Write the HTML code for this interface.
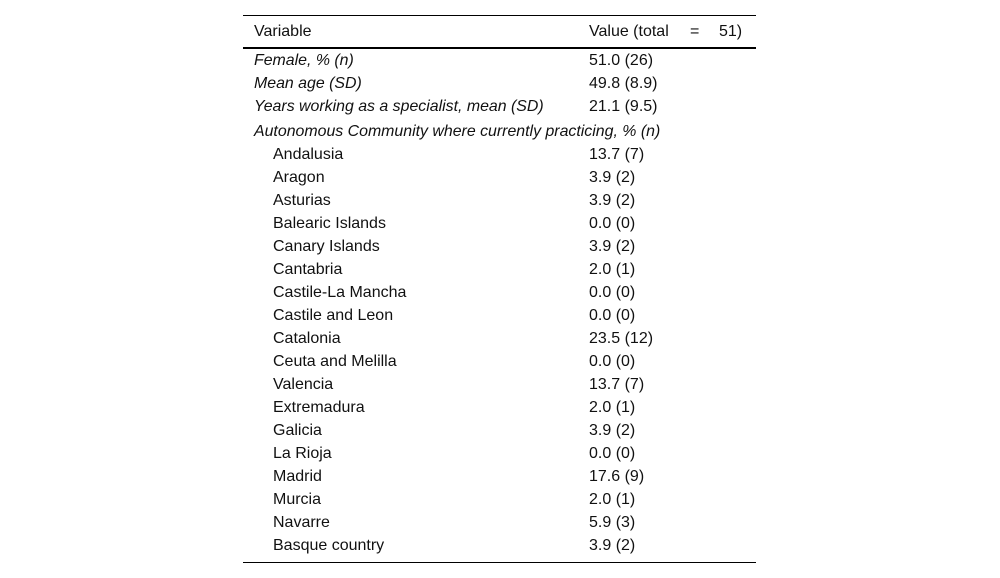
<!DOCTYPE html>
<html lang="en">
<head>
<meta charset="utf-8">
<title>Table of respondent characteristics</title>
<style>
html,body{margin:0;padding:0;background:#fff;}
body{width:1000px;height:578px;position:relative;overflow:hidden;font-family:"Liberation Sans",sans-serif;font-size:16px;color:#111;}
.t{position:absolute;line-height:22px;white-space:pre;}
.r{position:absolute;left:243px;width:513px;background:#000;}
.i{font-style:italic;font-size:15.9px;}
.a{left:254px;}
.b{left:273px;}
.v{left:589px;}
</style>
</head>
<body>
<div class="r" style="top:15px;height:1px"></div>
<div class="r" style="top:47px;height:2px"></div>
<div class="r" style="top:562px;height:1px"></div>

<div class="t a" style="top:21px">Variable</div>
<div class="t v" style="top:21px">Value (total</div>
<div class="t" style="top:21px;left:690px">=</div>
<div class="t" style="top:21px;left:719px">51)</div>

<div class="t a i" style="top:50px">Female, % (n)</div>
<div class="t v" style="top:50px">51.0 (26)</div>
<div class="t a i" style="top:73px">Mean age (SD)</div>
<div class="t v" style="top:73px">49.8 (8.9)</div>
<div class="t a i" style="top:96px">Years working as a specialist, mean (SD)</div>
<div class="t v" style="top:96px">21.1 (9.5)</div>
<div class="t a i" style="top:121px">Autonomous Community where currently practicing, % (n)</div>

<div class="t b" style="top:144px">Andalusia</div>
<div class="t v" style="top:144px">13.7 (7)</div>
<div class="t b" style="top:167px">Aragon</div>
<div class="t v" style="top:167px">3.9 (2)</div>
<div class="t b" style="top:190px">Asturias</div>
<div class="t v" style="top:190px">3.9 (2)</div>
<div class="t b" style="top:213px">Balearic Islands</div>
<div class="t v" style="top:213px">0.0 (0)</div>
<div class="t b" style="top:236px">Canary Islands</div>
<div class="t v" style="top:236px">3.9 (2)</div>
<div class="t b" style="top:259px">Cantabria</div>
<div class="t v" style="top:259px">2.0 (1)</div>
<div class="t b" style="top:282px">Castile-La Mancha</div>
<div class="t v" style="top:282px">0.0 (0)</div>
<div class="t b" style="top:305px">Castile and Leon</div>
<div class="t v" style="top:305px">0.0 (0)</div>
<div class="t b" style="top:328px">Catalonia</div>
<div class="t v" style="top:328px">23.5 (12)</div>
<div class="t b" style="top:351px">Ceuta and Melilla</div>
<div class="t v" style="top:351px">0.0 (0)</div>
<div class="t b" style="top:374px">Valencia</div>
<div class="t v" style="top:374px">13.7 (7)</div>
<div class="t b" style="top:397px">Extremadura</div>
<div class="t v" style="top:397px">2.0 (1)</div>
<div class="t b" style="top:420px">Galicia</div>
<div class="t v" style="top:420px">3.9 (2)</div>
<div class="t b" style="top:443px">La Rioja</div>
<div class="t v" style="top:443px">0.0 (0)</div>
<div class="t b" style="top:466px">Madrid</div>
<div class="t v" style="top:466px">17.6 (9)</div>
<div class="t b" style="top:489px">Murcia</div>
<div class="t v" style="top:489px">2.0 (1)</div>
<div class="t b" style="top:512px">Navarre</div>
<div class="t v" style="top:512px">5.9 (3)</div>
<div class="t b" style="top:535px">Basque country</div>
<div class="t v" style="top:535px">3.9 (2)</div>
</body>
</html>
